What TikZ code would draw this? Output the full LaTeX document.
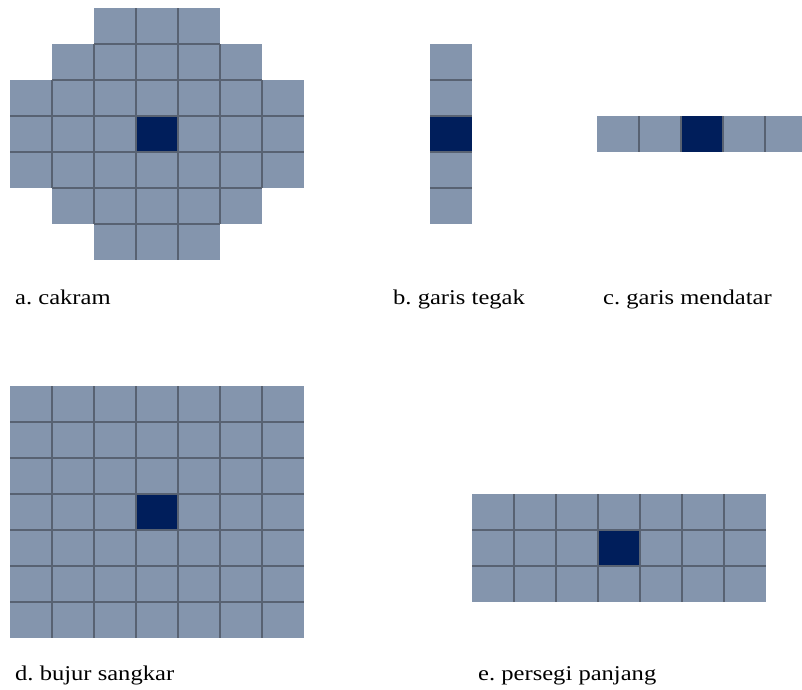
\documentclass[tikz,border=0pt]{standalone}
\usepackage{fontspec}
\setmainfont{Liberation Serif}[FakeStretch=1.17]
\frenchspacing
\definecolor{cellgray}{RGB}{132,149,173}
\definecolor{coreblue}{RGB}{0,30,91}
\definecolor{linegray}{RGB}{88,98,114}
\tikzset{
  cell/.style={fill=cellgray},
  core/.style={fill=coreblue},
  gridline/.style={draw=linegray, line width=1.2pt},
  caption/.style={anchor=base west, inner sep=0pt, font=\fontsize{21}{25}\selectfont}
}

\begin{document}
\begin{tikzpicture}[x=1pt,y=-1pt]
\useasboundingbox (0,0) rectangle (802,689);
\clip (0,0) rectangle (802,689);

% a. cakram
\foreach \r/\a/\b in {0/2/4,1/1/5,2/0/6,3/0/6,4/0/6,5/1/5,6/2/4}
  \fill[cell] ({10+42*\a},{8+36*\r}) rectangle ({52+42*\b},{44+36*\r});
\fill[core] (136,116) rectangle (178,152);
\foreach \y/\a/\b in {44/94/220,80/52/262,116/10/304,152/10/304,188/52/262,224/94/220}
  \draw[gridline] (\a,\y) -- (\b,\y);
\foreach \x/\a/\b in {52/80/188,94/44/224,136/8/260,178/8/260,220/44/224,262/80/188}
  \draw[gridline] (\x,\a) -- (\x,\b);

% b. garis tegak
\fill[cell] (430,44) rectangle (472,224);
\fill[core] (430,116) rectangle (472,152);
\foreach \y in {80,116,152,188}
  \draw[gridline] (430,\y) -- (472,\y);

% c. garis mendatar
\fill[cell] (597,116) rectangle (807,152);
\fill[core] (681,116) rectangle (723,152);
\foreach \x in {639,681,723,765}
  \draw[gridline] (\x,116) -- (\x,152);

% d. bujur sangkar
\fill[cell] (10,386) rectangle (304,638);
\fill[core] (136,494) rectangle (178,530);
\foreach \i in {1,...,6} {
  \draw[gridline] ({10+42*\i},386) -- ({10+42*\i},638);
  \draw[gridline] (10,{386+36*\i}) -- (304,{386+36*\i});
}

% e. persegi panjang
\fill[cell] (472,494) rectangle (766,602);
\fill[core] (598,530) rectangle (640,566);
\foreach \i in {1,...,6}
  \draw[gridline] ({472+42*\i},494) -- ({472+42*\i},602);
\foreach \y in {530,566}
  \draw[gridline] (472,\y) -- (766,\y);

\node[caption] (capA) at (15,304) {a. cakram};
\node[caption] (capB) at (393,304) {b. garis tegak};
\node[caption] (capC) at (603,304) {c. garis mendatar};
\node[caption] (capD) at (15,680) {d. bujur sangkar};
\node[caption] (capE) at (478,680) {e. persegi panjang};
\end{tikzpicture}
\end{document}
